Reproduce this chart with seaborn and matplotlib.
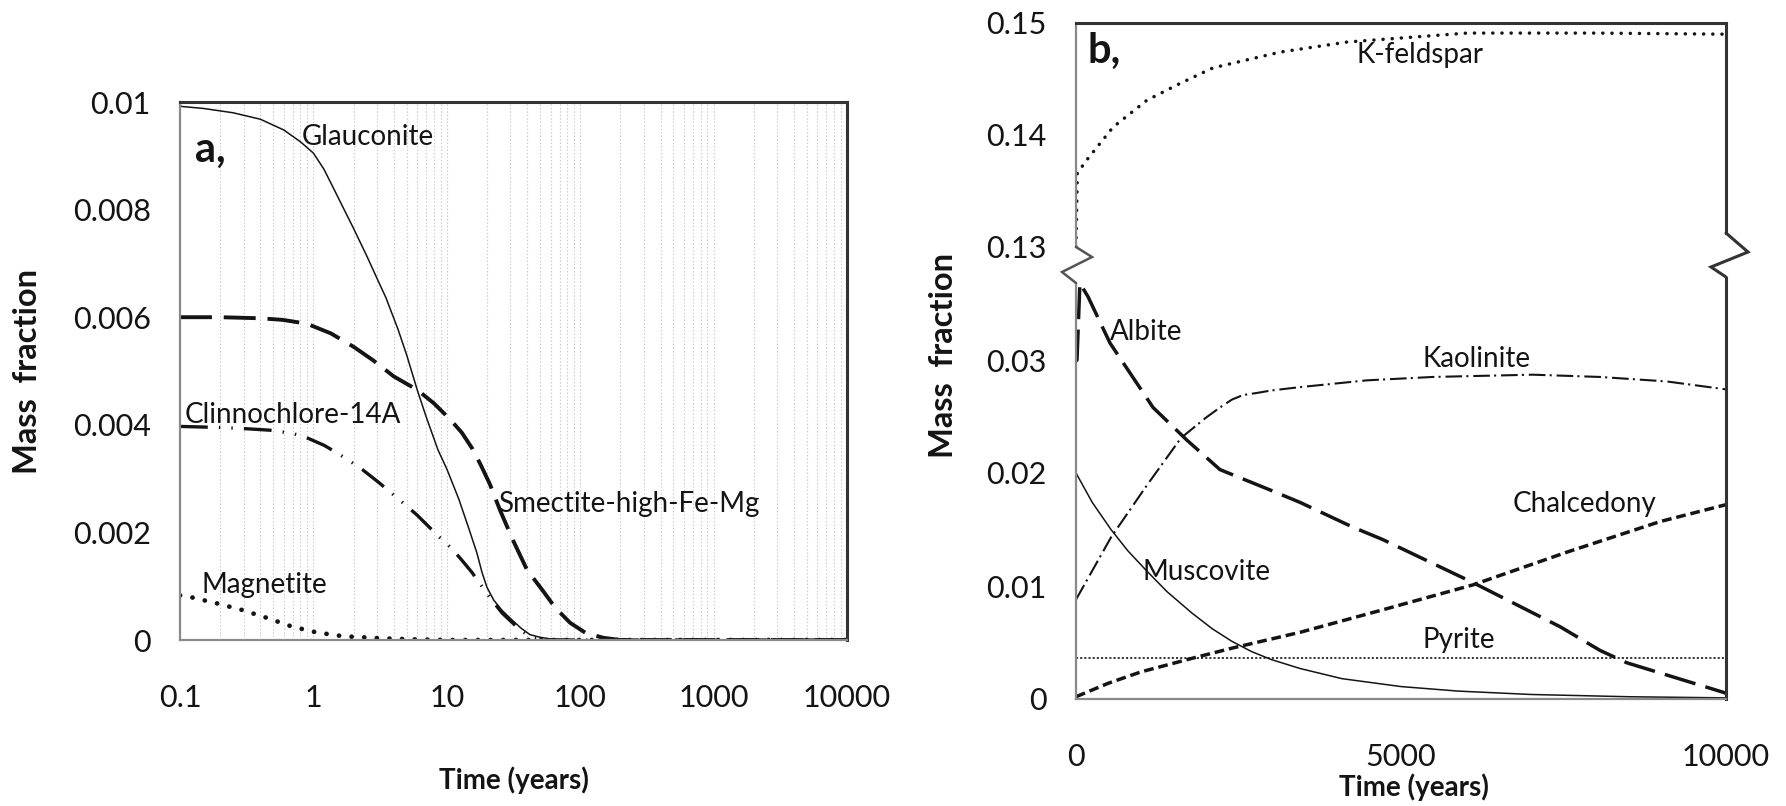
import numpy as np
import pandas as pd
import matplotlib
matplotlib.use("Agg")
import matplotlib.pyplot as plt
from matplotlib.lines import Line2D
from matplotlib.ticker import LogLocator, FixedLocator, NullFormatter
import seaborn as sns

sns.set_theme(style="white")
plt.rcParams["font.family"] = ["Lato", "DejaVu Sans"]
plt.rcParams["lines.scale_dashes"] = False
plt.rcParams["axes.unicode_minus"] = False

# ---------------- data: panel a (log time axis) ----------------
glauc_t = [0.1, 0.15, 0.25, 0.4, 0.6, 0.8, 1.0, 1.2, 1.4, 1.7, 2.0, 2.5, 3.0, 3.5, 4.3, 5.0, 6.0, 7.0,
           8.6, 10, 12.3, 14.5, 16.8, 18.4, 20, 22.5, 26, 30, 36, 42, 50, 60, 80, 100, 10000]
glauc_v = [0.00992, 0.00988, 0.0098, 0.00968, 0.00948, 0.00926, 0.00905, 0.00875, 0.00842, 0.00800,
           0.00765, 0.00715, 0.00672, 0.00636, 0.00578, 0.00530, 0.00465, 0.00415, 0.00353, 0.00318,
           0.00262, 0.00210, 0.00162, 0.00125, 0.00098, 0.00074, 0.00055, 0.00040, 0.00022, 0.0001,
           0.00005, 0.00002, 0.00001, 0.0, 0.0]

smect_t = [0.1, 0.2, 0.4, 0.59, 0.89, 1.35, 2.0, 2.8, 4.0, 6.0, 8.0, 10.6, 13, 15.6, 18, 21, 25, 31,
           40, 52, 65, 84, 110, 150, 200, 10000]
smect_v = [0.0060, 0.0060, 0.00598, 0.00595, 0.00588, 0.00570, 0.00545, 0.0052, 0.0049, 0.00465,
           0.0044, 0.0041, 0.00385, 0.00355, 0.00325, 0.0029, 0.00242, 0.00188, 0.0013, 0.00093, 0.0006,
           0.00032, 0.00013, 0.00004, 0.0, 0.0]

clinno_t = [0.1, 0.2, 0.3, 0.47, 0.7, 0.91, 1.2, 1.5, 2.0, 2.35, 3.05, 4.45, 6.0, 7.1, 8.9, 10.9, 13,
            15.4, 18.4, 21.8, 26, 33.6, 40, 45, 60, 10000]
clinno_v = [0.00397, 0.00395, 0.00393, 0.0039, 0.00384, 0.00375, 0.00362, 0.00348, 0.00328, 0.00316,
            0.00294, 0.0026, 0.00232, 0.00214, 0.0019, 0.0017, 0.00148, 0.00126, 0.00099, 0.00074,
            0.0005, 0.00024, 0.0001, 0.00004, 0.0, 0.0]

magn_t = [0.1, 0.119, 0.19, 0.29, 0.45, 0.69, 1.06, 1.67, 3.3, 6, 10, 10000]
magn_v = [0.00083, 0.0008, 0.00068, 0.00056, 0.00041, 0.00025, 0.00014, 0.00007, 0.00003, 0.00001, 0.0, 0.0]

a_yticks = [0, 0.002, 0.004, 0.006, 0.008, 0.01]
a_yticklabels = ["0", "0.002", "0.004", "0.006", "0.008", "0.01"]
a_xticks = [0.1, 1, 10, 100, 1000, 10000]
a_xticklabels = ["0.1", "1", "10", "100", "1000", "10000"]

# ---------------- data: panel b (linear time axis) ----------------
kfeld_t = [0, 20, 170, 570, 1090, 1600, 2110, 3140, 4170, 6015, 8000, 10000]
kfeld_v = [0.13, 0.1366, 0.1378, 0.1407, 0.1431, 0.1446, 0.1460, 0.1474, 0.1483, 0.1491, 0.1491, 0.1490]

albite_t = [0, 15, 60, 185, 523, 1185, 1708, 2215, 2985, 3446, 4262, 4723, 6108, 7446, 8062, 8477, 9954, 10000]
albite_v = [0.0299, 0.0300, 0.0368, 0.0356, 0.0315, 0.0258, 0.0229, 0.0203, 0.0185, 0.0174, 0.0152,
            0.0141, 0.0103, 0.0064, 0.0043, 0.0032, 0.0006, 0.0005]

kaol_t = [0, 538, 1077, 1615, 2000, 2215, 2400, 2570, 2800, 3000, 3446, 4477, 5492, 7030, 8062, 9092, 10000]
kaol_v = [0.0088, 0.0143, 0.0188, 0.0231, 0.0249, 0.0258, 0.0265, 0.0269, 0.0271, 0.0273, 0.0276,
          0.0282, 0.0285, 0.0287, 0.0285, 0.0281, 0.0274]

musc_t = [0, 250, 538, 800, 1077, 1400, 1785, 2100, 2400, 2700, 3000, 3446, 4092, 5000, 5877, 7000, 8500, 10000]
musc_v = [0.0200, 0.0174, 0.0150, 0.0131, 0.0114, 0.0095, 0.0076, 0.0062, 0.0051, 0.0042, 0.0035,
          0.0027, 0.0018, 0.0011, 0.0007, 0.0004, 0.0002, 0.0001]

chalc_t = [0, 500, 1000, 1785, 2400, 3446, 4723, 6108, 7554, 8985, 10000]
chalc_v = [0.0002, 0.0014, 0.0024, 0.0036, 0.0045, 0.0059, 0.0079, 0.0101, 0.0130, 0.0157, 0.0172]

pyrite_t = [0, 10000]
pyrite_v = [0.0036, 0.0036]

b_low_yticks = [0, 0.01, 0.02, 0.03]
b_low_yticklabels = ["0", "0.01", "0.02", "0.03"]
b_up_yticks = [0.13, 0.14, 0.15]
b_up_yticklabels = ["0.13", "0.14", "0.15"]
b_xticks = [0, 5000, 10000]
b_xticklabels = ["0", "5000", "10000"]

# ---------------- styling ----------------
W, H = 1786, 806
INK = "#141414"
SOFT = "#8a8a8a"
DARK = "#333333"
TICK_FS = 22
NOTE_FS = 20
XLAB_FS = 20
YLAB_FS = 23.5
TAG_FS = 30

fig = plt.figure(figsize=(W / 100, H / 100), dpi=100)
fig.patch.set_facecolor("white")


def px_box(x0, y0, x1, y1):
    return [x0 / W, 1 - y1 / H, (x1 - x0) / W, (y1 - y0) / H]


def draw(ax, t, v, **kw):
    df = pd.DataFrame({"t": t, "v": v})
    sns.lineplot(data=df, x="t", y="v", ax=ax, sort=False, estimator=None, color=INK, **kw)


def frame(ax):
    for side in ("left", "bottom"):
        ax.spines[side].set_color(SOFT)
        ax.spines[side].set_linewidth(1.6)
    for side in ("top", "right"):
        ax.spines[side].set_color(DARK)
        ax.spines[side].set_linewidth(2.2)
    ax.tick_params(axis="both", which="major", direction="out", color=SOFT, width=1.4,
                   labelsize=TICK_FS, labelcolor=INK)


# ================= panel a =================
axa = fig.add_axes(px_box(180, 102, 847, 640))
axa.set_xscale("log")
frame(axa)

draw(axa, glauc_t, glauc_v, linewidth=1.1)
draw(axa, smect_t, smect_v, linewidth=2.8, linestyle=(0, (23, 8.5)))
draw(axa, clinno_t, clinno_v, linewidth=2.4, linestyle=(0, (20, 8, 1, 8, 1, 8)))
draw(axa, magn_t, magn_v, linewidth=3.4, linestyle=(0, (0.1, 9)), dash_capstyle="round")

axa.set_xlim(0.1, 10000)
axa.set_ylim(0, 0.01)
axa.xaxis.set_major_locator(FixedLocator(a_xticks))
axa.set_xticklabels(a_xticklabels)
axa.xaxis.set_minor_locator(LogLocator(base=10, subs=np.arange(2, 10)))
axa.xaxis.set_minor_formatter(NullFormatter())
axa.set_yticks(a_yticks)
axa.set_yticklabels(a_yticklabels)
axa.tick_params(axis="x", which="major", length=12, pad=20)
axa.tick_params(axis="x", which="minor", length=0)
axa.tick_params(axis="y", length=11, pad=10)
axa.grid(True, axis="x", which="both", color="#c9c9c9", linewidth=0.8, linestyle=(0, (1, 1.5)))
axa.grid(False, axis="y")
axa.set_axisbelow(True)

axa.set_xlabel("Time (years)", fontsize=XLAB_FS, fontweight="bold", color=INK)
axa.xaxis.set_label_coords(0.5, -0.235)
axa.set_ylabel("Mass  fraction", fontsize=YLAB_FS, fontweight="bold", color=INK)
axa.yaxis.set_label_coords(-0.207, 0.5)

axa.text(0.023, 0.91, "a,", transform=axa.transAxes, fontsize=TAG_FS, fontweight="bold", color=INK,
         va="center", ha="left")
notes_a = [
    ("Glauconite", 0.82, 0.0092),
    ("Clinnochlore-14A", 0.109, 0.00403),
    ("Magnetite", 0.146, 0.00087),
    ("Smectite-high-Fe-Mg", 24.2, 0.00238),
]
for label, x, y in notes_a:
    axa.text(x, y, label, fontsize=NOTE_FS, color=INK, va="baseline", ha="left")

# ================= panel b (broken y axis) =================
axb = fig.add_axes(px_box(1076, 247, 1726, 699))
axu = fig.add_axes(px_box(1076, 23, 1726, 247), sharex=axb)
frame(axb)
frame(axu)

draw(axb, albite_t, albite_v, linewidth=2.5, linestyle=(0, (23, 7.5)))
draw(axb, kaol_t, kaol_v, linewidth=1.5, linestyle=(0, (12, 3, 1.5, 3.5)))
draw(axb, musc_t, musc_v, linewidth=1.1)
draw(axb, chalc_t, chalc_v, linewidth=2.5, linestyle=(0, (7, 3.5)))
draw(axb, pyrite_t, pyrite_v, linewidth=1.2, linestyle=(0, (1.5, 1.5)))
draw(axu, kfeld_t, kfeld_v, linewidth=2.5, linestyle=(0, (0.1, 6.5)), dash_capstyle="round")

axb.set_xlim(0, 10000)
axb.set_ylim(0, 0.04)
axu.set_ylim(0.13, 0.15)
axb.set_xticks(b_xticks)
axb.set_xticklabels(b_xticklabels)
axb.set_yticks(b_low_yticks)
axb.set_yticklabels(b_low_yticklabels)
axu.set_yticks(b_up_yticks)
axu.set_yticklabels(b_up_yticklabels)
axb.tick_params(axis="x", length=12, pad=20)
axb.tick_params(axis="y", length=11, pad=10)
axu.tick_params(axis="y", length=11, pad=10)
axu.tick_params(axis="x", length=0, labelbottom=False)

axb.spines["top"].set_visible(False)
axu.spines["bottom"].set_visible(False)
axb.spines["left"].set_bounds(0, 0.0368)
axb.spines["right"].set_bounds(0, 0.0373)
axu.spines["right"].set_bounds(0.13125, 0.15)

axb.set_xlabel("Time (years)", fontsize=XLAB_FS, fontweight="bold", color=INK)
axb.xaxis.set_label_coords(0.52, -0.165)
axb.set_ylabel("Mass  fraction", fontsize=YLAB_FS, fontweight="bold", color=INK)
axb.yaxis.set_label_coords(-0.1815, 0.761)
axu.set_xlabel("")
axu.set_ylabel("")

# zigzag break marks on both vertical spines (pixel offsets)
def zigzag(pts, color, lw):
    xs = [p[0] / W for p in pts]
    ys = [1 - p[1] / H for p in pts]
    fig.add_artist(Line2D(xs, ys, transform=fig.transFigure, color=color, linewidth=lw,
                          solid_joinstyle="miter"))

zigzag([(1076, 247), (1092, 257), (1062, 272), (1076, 283)], "#555555", 1.8)
zigzag([(1726, 233), (1748, 252), (1711, 267), (1726, 277)], DARK, 2.2)

axu.text(0.018, 0.875, "b,", transform=axu.transAxes, fontsize=TAG_FS, fontweight="bold", color=INK,
         va="center", ha="left")
axu.text(4323, 0.14643, "K-feldspar", fontsize=NOTE_FS, color=INK, va="baseline", ha="left")
notes_b = [
    ("Albite", 523, 0.03177),
    ("Kaolinite", 5338, 0.02938),
    ("Chalcedony", 6723, 0.01655),
    ("Muscovite", 1030, 0.01053),
    ("Pyrite", 5338, 0.00451),
]
for label, x, y in notes_b:
    axb.text(x, y, label, fontsize=NOTE_FS, color=INK, va="baseline", ha="left")

fig.savefig("out.png", dpi=100, facecolor="white")
